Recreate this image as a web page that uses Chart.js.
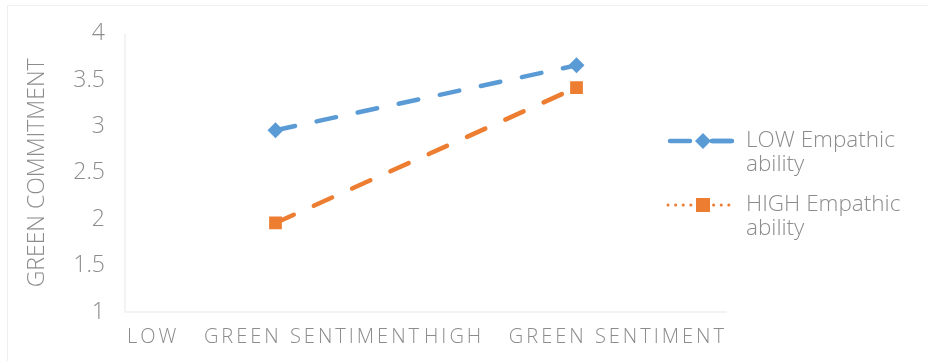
<!DOCTYPE html>
<html>
<head>
<meta charset="utf-8">
<script src="https://cdn.jsdelivr.net/npm/chart.js@4/dist/chart.umd.min.js"></script>
<style>
  html, body { margin: 0; padding: 0; background: #fff; }
  #wrap { position: relative; width: 928px; height: 361px; }
  #frame { position: absolute; left: 7px; top: 5px; width: 940px; height: 380px; border: 1px solid #efefef; box-sizing: border-box; }
  canvas { position: absolute; left: 0; top: 0; }
</style>
</head>
<body>
<div id="wrap">
  <div id="frame"></div>
  <canvas id="chart" width="928" height="361"></canvas>
</div>
<script>
// chart data
const categories = ['LOW   GREEN SENTIMENT', 'HIGH   GREEN SENTIMENT'];
const lowEmpathic = [2.96, 3.66];
const highEmpathic = [1.96, 3.42];
const seriesNames = [['LOW Empathic', 'ability'], ['HIGH Empathic', 'ability']];
const yTicks = [1, 1.5, 2, 2.5, 3, 3.5, 4];

const FONT = "'Open Sans', 'Noto Sans', sans-serif";
const TEXT_GREY = '#8c8c8c';
const BLUE = '#5b9bd5';
const ORANGE = '#ed7d31';

// x labels with letter spacing (Chart.js ticks don't support it)
const xLabelPlugin = {
    id: 'xLabels',
    afterDraw(chart) {
        const ctx = chart.ctx;
        const xScale = chart.scales.x;
        ctx.save();
        ctx.font = '300 20px ' + FONT;
        ctx.fillStyle = TEXT_GREY;
        ctx.letterSpacing = '3px';
        ctx.textAlign = 'center';
        ctx.textBaseline = 'middle';
        categories.forEach(function (label, i) {
            ctx.fillText(label, xScale.getPixelForValue(i) - 1, chart.chartArea.bottom + 25);
        });
        ctx.restore();
    }
};

// legend on the right, two-line labels
const legendPlugin = {
    id: 'sideLegend',
    afterDraw(chart) {
        const ctx = chart.ctx;
        const lineStart = 668, lineEnd = 735, textX = 746;
        const rows = [141, 205];
        chart.data.datasets.forEach(function (ds, i) {
            const y = rows[i];
            ctx.save();
            ctx.strokeStyle = ds.borderColor;
            ctx.lineWidth = i === 0 ? 4.5 : 3;
            ctx.lineCap = 'round';
            ctx.setLineDash(i === 0 ? [20, 22] : [0.1, 7.5]);
            ctx.beginPath();
            ctx.moveTo(i === 0 ? lineStart + 2 : lineStart, y);
            ctx.lineTo(lineEnd - 2, y);
            ctx.stroke();
            if (i === 0) {
                ctx.setLineDash([]);
                ctx.beginPath();
                ctx.moveTo(712, y);
                ctx.lineTo(731, y);
                ctx.stroke();
            }
            ctx.setLineDash([]);
            ctx.fillStyle = ds.pointBackgroundColor;
            ctx.beginPath();
            if (i === 0) {
                ctx.moveTo(703, y - 8);
                ctx.lineTo(711, y);
                ctx.lineTo(703, y + 8);
                ctx.lineTo(695, y);
            } else {
                ctx.rect(696, y - 7, 14, 14);
            }
            ctx.closePath();
            ctx.fill();
            ctx.font = '300 22.5px ' + FONT;
            ctx.fillStyle = TEXT_GREY;
            ctx.textAlign = 'left';
            ctx.textBaseline = 'middle';
            seriesNames[i].forEach(function (line, j) {
                ctx.fillText(line, textX, y + j * 24);
            });
            ctx.restore();
        });
    }
};

// faint plot-area border on left and bottom
const plotBorderPlugin = {
    id: 'plotBorder',
    beforeDatasetsDraw(chart) {
        const a = chart.chartArea;
        const ctx = chart.ctx;
        ctx.save();
        ctx.strokeStyle = '#f0f0f0';
        ctx.lineWidth = 1.5;
        ctx.beginPath();
        ctx.moveTo(a.left, a.top);
        ctx.lineTo(a.left, a.bottom);
        ctx.lineTo(a.right, a.bottom);
        ctx.stroke();
        ctx.restore();
    }
};

new Chart(document.getElementById('chart'), {
    type: 'line',
    data: {
        labels: categories,
        datasets: [{
            label: seriesNames[0].join(' '),
            data: lowEmpathic,
            borderColor: BLUE,
            backgroundColor: BLUE,
            pointBackgroundColor: BLUE,
            pointBorderColor: BLUE,
            borderWidth: 4.5,
            borderDash: [20, 22],
            borderCapStyle: 'round',
            pointStyle: 'rectRot',
            pointRadius: 8,
            pointBorderWidth: 0
        }, {
            label: seriesNames[1].join(' '),
            data: highEmpathic,
            borderColor: ORANGE,
            backgroundColor: ORANGE,
            pointBackgroundColor: ORANGE,
            pointBorderColor: ORANGE,
            borderWidth: 4.5,
            borderDash: [20, 22],
            borderCapStyle: 'round',
            pointStyle: 'rect',
            pointRadius: 9,
            pointBorderWidth: 0
        }]
    },
    options: {
        responsive: false,
        animation: false,
        layout: { padding: { left: 0, top: 33, right: 201, bottom: 49 } },
        plugins: {
            legend: { display: false },
            tooltip: { enabled: false }
        },
        scales: {
            x: {
                offset: true,
                grid: { display: false, drawTicks: false },
                border: { display: false },
                ticks: { display: false }
            },
            y: {
                min: 1,
                max: 4,
                afterBuildTicks(scale) {
                    scale.ticks = yTicks.map(function (v) { return { value: v }; });
                },
                afterFit(scale) { scale.width = 125; },
                grid: { display: false, drawTicks: false },
                border: { display: false },
                ticks: {
                    padding: 20,
                    color: TEXT_GREY,
                    font: { family: FONT, size: 23, weight: 300 },
                    callback: function (v) { return String(v); }
                },
                title: {
                    display: true,
                    text: 'GREEN COMMITMENT',
                    color: TEXT_GREY,
                    padding: { top: 24, bottom: 0 },
                    font: { family: FONT, size: 23, weight: 300 }
                }
            }
        }
    },
    plugins: [plotBorderPlugin, xLabelPlugin, legendPlugin]
});
</script>
</body>
</html>
